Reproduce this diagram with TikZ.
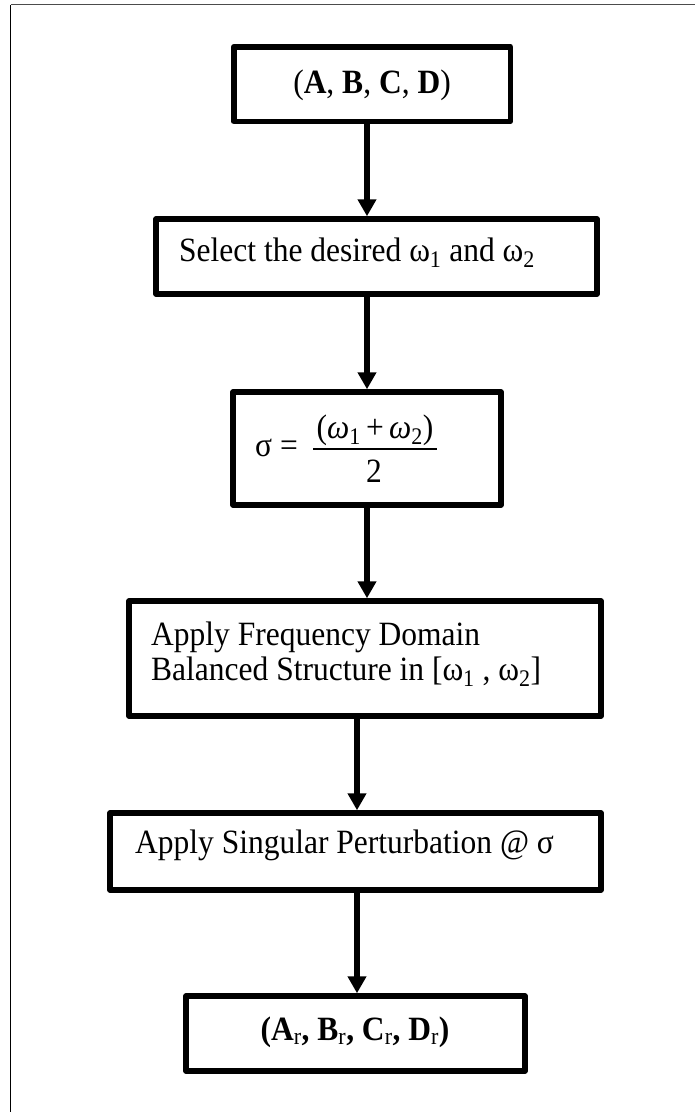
\documentclass[tikz,border=0pt]{standalone}
\usepackage{fontspec}
\setmainfont{Liberation Serif}
\usetikzlibrary{arrows.meta}

% slightly tall lettering
\newcommand\vstretch[1]{\scalebox{1}[1.08]{#1}}

\tikzset{
  stepbox/.style={draw=black, line width=5.5pt, line join=round, fill=white,
    inner sep=0pt, outer sep=auto},
  txt/.style={inner sep=0pt, font=\fontsize{31.5}{35}\selectfont},
  flow/.style={line width=5.5pt, -{Triangle[width=18pt,length=17pt]}},
  frameline/.style={line width=1.2pt},
}

\begin{document}
\begin{tikzpicture}[x=1pt,y=-1pt]
\useasboundingbox (0,0) rectangle (695,1112);

% outer frame (only top and left edges fall inside the page)
\draw[frameline, black] (10.5,1113) -- (10.5,4.5);
\draw[frameline, black!70] (10.5,4.5) -- (696,4.5);

% process boxes
\node[stepbox, minimum width=276.5pt, minimum height=74.5pt] (b1) at (372,84) {};
\node[stepbox, minimum width=441pt,   minimum height=75pt]   (b2) at (376.5,256.5) {};
\node[stepbox, minimum width=268pt,   minimum height=113pt]  (b3) at (367,448.5) {};
\node[stepbox, minimum width=472pt,   minimum height=115pt]  (b4) at (365,658.5) {};
\node[stepbox, minimum width=491pt,   minimum height=77pt]   (b5) at (355.5,851.5) {};
\node[stepbox, minimum width=339pt,   minimum height=75pt]   (b6) at (355.5,1033.5) {};

% box texts
\node[txt, anchor=base] (t1) at (372,93)
  {\vstretch{(\textbf{A}, \textbf{B}, \textbf{C}, \textbf{D})}};
\node[txt, anchor=base west] (t2) at (179,261)
  {\vstretch{Select the desired ω\textsubscript{1} and ω\textsubscript{2}}};

\node[txt, anchor=base west] (t3s) at (255,456) {\vstretch{σ =}};
\node[txt, anchor=base] (t3n) at (375,438)
  {\vstretch{(\textit{ω}\textsubscript{1}\,+\,\textit{ω}\textsubscript{2})}};
\node[txt, anchor=base] (t3d) at (374,482) {\vstretch{2}};
\draw[line width=1.2pt] (313,449) -- (437,449);

\node[txt, anchor=base west] (t4a) at (151,645) {\vstretch{Apply Frequency Domain}};
\node[txt, anchor=base west] (t4b) at (151,680)
  {\vstretch{Balanced Structure in [ω\textsubscript{1} , ω\textsubscript{2}]}};
\node[txt, anchor=base west] (t5) at (135,853)
  {\vstretch{Apply Singular Perturbation @ σ}};
\node[txt, anchor=base] (t6) at (355,1040)
  {\vstretch{\textbf{(A}\textsubscript{r}\textbf{, B}\textsubscript{r}\textbf{, C}\textsubscript{r}\textbf{, D}\textsubscript{r}\textbf{)}}};

% connectors
\coordinate (colA) at (367,0);
\coordinate (colB) at (357,0);
\draw[flow] (b1.south -| colA) -- (b2.north -| colA);
\draw[flow] (b2.south -| colA) -- (b3.north -| colA);
\draw[flow] (b3.south -| colA) -- (b4.north -| colA);
\draw[flow] (b4.south -| colB) -- (b5.north -| colB);
\draw[flow] (b5.south -| colB) -- (b6.north -| colB);
\end{tikzpicture}
\end{document}
